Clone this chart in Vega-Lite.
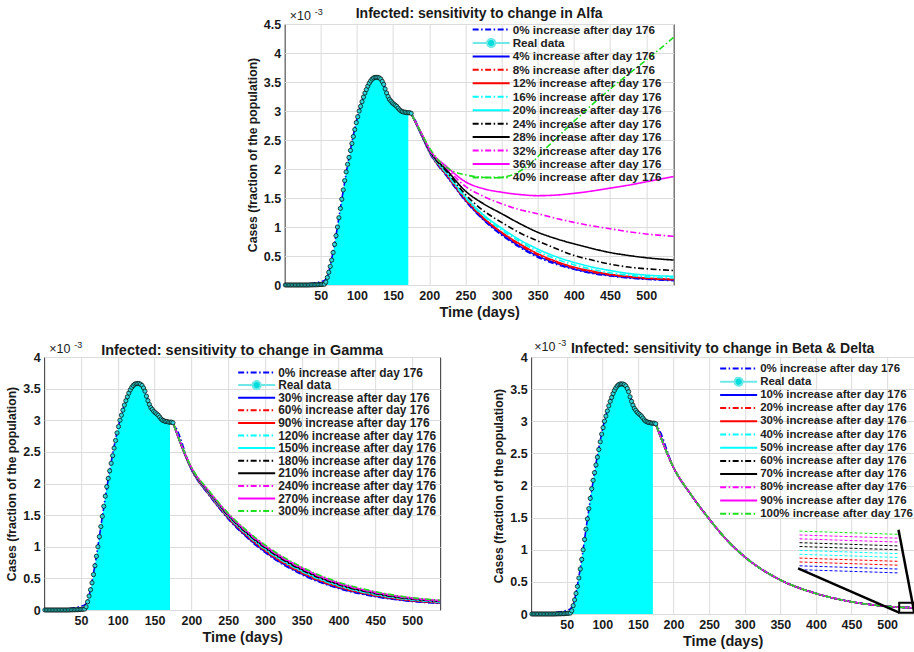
{
  "$schema": "https://vega.github.io/schema/vega-lite/v6.json",
  "padding": {"left": 5, "top": 6, "right": 1, "bottom": 0},
  "background": "white",
  "center": true,
  "spacing": 18,
  "resolve": {"scale": {"x": "independent", "y": "independent", "color": "independent", "strokeDash": "independent"}, "legend": {"color": "independent", "strokeDash": "independent"}},
  "vconcat": [
    {
      "width": 389, "height": 261,
      "title": {"text": "Infected: sensitivity to change in Alfa", "offset": -13},
      "encoding": {
        "x": {"field": "day", "type": "quantitative", "scale": {"domain": [0, 538], "nice": false, "zero": false}, "axis": {"values": [50,100,150,200,250,300,350,400,450,500], "title": "Time (days)"}},
        "y": {"field": "cases", "type": "quantitative", "scale": {"domain": [0, 4.5], "nice": false}, "axis": {"values": [0,0.5,1,1.5,2,2.5,3,3.5,4,4.5], "format": "~g", "title": "Cases (fraction of the population)"}}
      },
      "layer": [
        {"data": {"name": "real"}, "transform": [{"filter": "datum.day <= 171"}],
         "mark": {"type": "area", "color": "#00FFFF", "opacity": 1}},
        {"data": {"name": "alfa"}, "mark": {"type": "line", "strokeWidth": 1.6, "interpolate": "monotone"},
         "encoding": {
           "color": {"field": "series", "type": "nominal",
             "scale": {"domain": ["0%", "Real data", "4%", "8%", "12%", "16%", "20%", "24%", "28%", "32%", "36%", "40%"], "range": ["#0000FF", "#70E8E8", "#0000FF", "#FF0000", "#FF0000", "#00FFFF", "#00FFFF", "#000000", "#000000", "#FF00FF", "#FF00FF", "#1FE01F"]},
             "legend": {"title": null, "orient": "none", "legendX": 187, "legendY": 0, "rowPadding": 0.45, "labelFontSize": 11.7, "labelExpr": "datum.label == 'Real data' ? datum.label : datum.label + ' increase after day 176'",
               "encode": {"symbols": {"update": {"shape": {"signal": "datum.value == 'Real data' ? 'M-1,0H-0.22M0.22,0H1M0.22,0A0.22,0.22,0,1,1,-0.22,0A0.22,0.22,0,1,1,0.22,0' : 'stroke'"}, "fill": {"signal": "datum.value == 'Real data' ? '#00DDDD' : 'transparent'"}}}}}},
           "strokeDash": {"field": "series", "type": "nominal",
             "scale": {"domain": ["0%", "Real data", "4%", "8%", "12%", "16%", "20%", "24%", "28%", "32%", "36%", "40%"], "range": [[6,2.5,1.5,2.5],[1,0],[1,0],[6,2.5,1.5,2.5],[1,0],[6,2.5,1.5,2.5],[1,0],[6,2.5,1.5,2.5],[1,0],[6,2.5,1.5,2.5],[1,0],[6,2.5,1.5,2.5]]},
             "legend": {"title": null, "orient": "none", "legendX": 187, "legendY": 0, "rowPadding": 0.45, "labelFontSize": 11.7, "labelExpr": "datum.label == 'Real data' ? datum.label : datum.label + ' increase after day 176'",
               "encode": {"symbols": {"update": {"shape": {"signal": "datum.value == 'Real data' ? 'M-1,0H-0.22M0.22,0H1M0.22,0A0.22,0.22,0,1,1,-0.22,0A0.22,0.22,0,1,1,0.22,0' : 'stroke'"}, "fill": {"signal": "datum.value == 'Real data' ? '#00DDDD' : 'transparent'"}}}}}}}},
        {"data": {"name": "real"}, "mark": {"type": "point", "filled": true, "size": 18, "fill": "#33D6D6", "stroke": "#000000", "strokeWidth": 0.7, "opacity": 1}},
        {"data": {"values": [{"day": 0, "cases": 4.5}]}, "mark": {"type": "text", "text": "×10", "align": "left", "baseline": "alphabetic", "dx": 5, "dy": -4, "fontSize": 12.5, "color": "#222222"}},
        {"data": {"values": [{"day": 0, "cases": 4.5}]}, "mark": {"type": "text", "text": "-3", "align": "left", "baseline": "alphabetic", "dx": 30, "dy": -9, "fontSize": 9, "color": "#222222"}}
      ]
    },
    {
      "hconcat": [
        {
          "width": 396, "height": 253,
          "title": {"text": "Infected: sensitivity to change in Gamma", "offset": -17, "fontSize": 14.5},
          "encoding": {
            "x": {"field": "day", "type": "quantitative", "scale": {"domain": [0, 538], "nice": false, "zero": false}, "axis": {"values": [50,100,150,200,250,300,350,400,450,500], "title": "Time (days)"}},
            "y": {"field": "cases", "type": "quantitative", "scale": {"domain": [0, 4], "nice": false}, "axis": {"values": [0,0.5,1,1.5,2,2.5,3,3.5,4], "format": "~g", "title": "Cases (fraction of the population)"}}
          },
          "layer": [
            {"data": {"name": "real"}, "transform": [{"filter": "datum.day <= 171"}],
             "mark": {"type": "area", "color": "#00FFFF", "opacity": 1}},
            {"data": {"name": "gamma"}, "mark": {"type": "line", "strokeWidth": 1.6, "interpolate": "monotone"},
             "encoding": {
               "color": {"field": "series", "type": "nominal",
                 "scale": {"domain": ["0%", "Real data", "30%", "60%", "90%", "120%", "150%", "180%", "210%", "240%", "270%", "300%"], "range": ["#0000FF", "#70E8E8", "#0000FF", "#FF0000", "#FF0000", "#00FFFF", "#00FFFF", "#000000", "#000000", "#FF00FF", "#FF00FF", "#1FE01F"]},
                 "legend": {"title": null, "orient": "none", "legendX": 193, "legendY": 10, "rowPadding": -0.4, "labelFontSize": 11.9, "labelExpr": "datum.label == 'Real data' ? datum.label : datum.label + ' increase after day 176'",
                   "encode": {"symbols": {"update": {"shape": {"signal": "datum.value == 'Real data' ? 'M-1,0H-0.22M0.22,0H1M0.22,0A0.22,0.22,0,1,1,-0.22,0A0.22,0.22,0,1,1,0.22,0' : 'stroke'"}, "fill": {"signal": "datum.value == 'Real data' ? '#00DDDD' : 'transparent'"}}}}}},
               "strokeDash": {"field": "series", "type": "nominal",
                 "scale": {"domain": ["0%", "Real data", "30%", "60%", "90%", "120%", "150%", "180%", "210%", "240%", "270%", "300%"], "range": [[6,2.5,1.5,2.5],[1,0],[1,0],[6,2.5,1.5,2.5],[1,0],[6,2.5,1.5,2.5],[1,0],[6,2.5,1.5,2.5],[1,0],[6,2.5,1.5,2.5],[1,0],[6,2.5,1.5,2.5]]},
                 "legend": {"title": null, "orient": "none", "legendX": 193, "legendY": 10, "rowPadding": -0.4, "labelFontSize": 11.9, "labelExpr": "datum.label == 'Real data' ? datum.label : datum.label + ' increase after day 176'",
                   "encode": {"symbols": {"update": {"shape": {"signal": "datum.value == 'Real data' ? 'M-1,0H-0.22M0.22,0H1M0.22,0A0.22,0.22,0,1,1,-0.22,0A0.22,0.22,0,1,1,0.22,0' : 'stroke'"}, "fill": {"signal": "datum.value == 'Real data' ? '#00DDDD' : 'transparent'"}}}}}}}},
            {"data": {"name": "real"}, "mark": {"type": "point", "filled": true, "size": 18, "fill": "#33D6D6", "stroke": "#000000", "strokeWidth": 0.7, "opacity": 1}},
            {"data": {"values": [{"day": 0, "cases": 4}]}, "mark": {"type": "text", "text": "×10", "align": "left", "baseline": "alphabetic", "dx": 5, "dy": -4, "fontSize": 12.5, "color": "#222222"}},
            {"data": {"values": [{"day": 0, "cases": 4}]}, "mark": {"type": "text", "text": "-3", "align": "left", "baseline": "alphabetic", "dx": 30, "dy": -9, "fontSize": 9, "color": "#222222"}}
          ]
        },
        {
          "width": 383, "height": 257,
          "title": {"text": "Infected: sensitivity to change in Beta & Delta", "offset": -17},
          "encoding": {
            "x": {"field": "day", "type": "quantitative", "scale": {"domain": [0, 538], "nice": false, "zero": false}, "axis": {"values": [50,100,150,200,250,300,350,400,450,500], "title": "Time (days)"}},
            "y": {"field": "cases", "type": "quantitative", "scale": {"domain": [0, 4], "nice": false}, "axis": {"values": [0,0.5,1,1.5,2,2.5,3,3.5,4], "format": "~g", "title": "Cases (fraction of the population)"}}
          },
          "layer": [
            {"data": {"name": "real"}, "transform": [{"filter": "datum.day <= 171"}],
             "mark": {"type": "area", "color": "#00FFFF", "opacity": 1}},
            {"data": {"name": "bd"}, "mark": {"type": "line", "strokeWidth": 1.6, "interpolate": "monotone"},
             "encoding": {
               "color": {"field": "series", "type": "nominal",
                 "scale": {"domain": ["0%", "Real data", "10%", "20%", "30%", "40%", "50%", "60%", "70%", "80%", "90%", "100%"], "range": ["#0000FF", "#70E8E8", "#0000FF", "#FF0000", "#FF0000", "#00FFFF", "#00FFFF", "#000000", "#000000", "#FF00FF", "#FF00FF", "#1FE01F"]},
                 "legend": {"title": null, "orient": "none", "legendX": 188, "legendY": 6, "rowPadding": 1.2, "labelFontSize": 11.5, "labelExpr": "datum.label == 'Real data' ? datum.label : datum.label + ' increase after day 176'",
                   "encode": {"symbols": {"update": {"shape": {"signal": "datum.value == 'Real data' ? 'M-1,0H-0.22M0.22,0H1M0.22,0A0.22,0.22,0,1,1,-0.22,0A0.22,0.22,0,1,1,0.22,0' : 'stroke'"}, "fill": {"signal": "datum.value == 'Real data' ? '#00DDDD' : 'transparent'"}}}}}},
               "strokeDash": {"field": "series", "type": "nominal",
                 "scale": {"domain": ["0%", "Real data", "10%", "20%", "30%", "40%", "50%", "60%", "70%", "80%", "90%", "100%"], "range": [[6,2.5,1.5,2.5],[1,0],[1,0],[6,2.5,1.5,2.5],[1,0],[6,2.5,1.5,2.5],[1,0],[6,2.5,1.5,2.5],[1,0],[6,2.5,1.5,2.5],[1,0],[6,2.5,1.5,2.5]]},
                 "legend": {"title": null, "orient": "none", "legendX": 188, "legendY": 6, "rowPadding": 1.2, "labelFontSize": 11.5, "labelExpr": "datum.label == 'Real data' ? datum.label : datum.label + ' increase after day 176'",
                   "encode": {"symbols": {"update": {"shape": {"signal": "datum.value == 'Real data' ? 'M-1,0H-0.22M0.22,0H1M0.22,0A0.22,0.22,0,1,1,-0.22,0A0.22,0.22,0,1,1,0.22,0' : 'stroke'"}, "fill": {"signal": "datum.value == 'Real data' ? '#00DDDD' : 'transparent'"}}}}}}}},
            {"data": {"name": "inset"}, "mark": {"type": "line", "strokeWidth": 1, "strokeDash": [3, 2]},
             "encoding": {"color": {"field": "series", "type": "nominal"}, "detail": {"field": "series"}}},
            {"data": {"name": "connect"}, "mark": {"type": "rule", "color": "#000000", "strokeWidth": 2.5},
             "encoding": {"x2": {"field": "day2"}, "y2": {"field": "cases2"}}},
            {"data": {"name": "box"}, "mark": {"type": "rect", "fill": null, "fillOpacity": 0, "stroke": "#000000", "strokeWidth": 2},
             "encoding": {"x2": {"field": "day2"}, "y2": {"field": "cases2"}}},
            {"data": {"name": "real"}, "mark": {"type": "point", "filled": true, "size": 18, "fill": "#33D6D6", "stroke": "#000000", "strokeWidth": 0.7, "opacity": 1}},
            {"data": {"values": [{"day": 0, "cases": 4}]}, "mark": {"type": "text", "text": "×10", "align": "left", "baseline": "alphabetic", "dx": 3, "dy": -6, "fontSize": 12.5, "color": "#222222"}},
            {"data": {"values": [{"day": 0, "cases": 4}]}, "mark": {"type": "text", "text": "-3", "align": "left", "baseline": "alphabetic", "dx": 27, "dy": -11, "fontSize": 9, "color": "#222222"}}
          ]
        }
      ],
      "spacing": 48,
      "resolve": {"scale": {"x": "independent", "y": "independent", "color": "independent", "strokeDash": "independent"}, "legend": {"color": "independent", "strokeDash": "independent"}}
    }
  ],
  "datasets": {
    "real": [
      {"day":1,"cases":0},{"day":3,"cases":0},{"day":5,"cases":0},{"day":7,"cases":0},{"day":9,"cases":0},{"day":11,"cases":0},{"day":13,"cases":0},{"day":15,"cases":0},{"day":17,"cases":0},{"day":19,"cases":0},{"day":21,"cases":0},{"day":23,"cases":0},{"day":25,"cases":0},{"day":27,"cases":0},{"day":29,"cases":0},{"day":31,"cases":0},{"day":33,"cases":0},{"day":35,"cases":0.002},{"day":37,"cases":0.002},{"day":39,"cases":0.003},{"day":41,"cases":0.003},{"day":43,"cases":0.004},{"day":45,"cases":0.005},{"day":47,"cases":0.006},{"day":49,"cases":0.008},{"day":51,"cases":0.01},{"day":53,"cases":0.012},{"day":55,"cases":0.015},{"day":57,"cases":0.05},{"day":59,"cases":0.13},{"day":61,"cases":0.22},{"day":63,"cases":0.32},{"day":65,"cases":0.43},{"day":67,"cases":0.56},{"day":69,"cases":0.7},{"day":71,"cases":0.85},{"day":73,"cases":1.0},{"day":75,"cases":1.16},{"day":77,"cases":1.32},{"day":79,"cases":1.48},{"day":81,"cases":1.64},{"day":83,"cases":1.8},{"day":85,"cases":1.95},{"day":87,"cases":2.08},{"day":89,"cases":2.2},{"day":91,"cases":2.32},{"day":93,"cases":2.44},{"day":95,"cases":2.56},{"day":97,"cases":2.68},{"day":99,"cases":2.8},{"day":101,"cases":2.9},{"day":103,"cases":3.0},{"day":105,"cases":3.08},{"day":107,"cases":3.16},{"day":109,"cases":3.24},{"day":111,"cases":3.31},{"day":113,"cases":3.37},{"day":115,"cases":3.43},{"day":117,"cases":3.48},{"day":119,"cases":3.52},{"day":121,"cases":3.55},{"day":123,"cases":3.57},{"day":125,"cases":3.58},{"day":127,"cases":3.58},{"day":129,"cases":3.58},{"day":131,"cases":3.57},{"day":133,"cases":3.55},{"day":135,"cases":3.51},{"day":137,"cases":3.46},{"day":139,"cases":3.38},{"day":141,"cases":3.31},{"day":143,"cases":3.25},{"day":145,"cases":3.2},{"day":147,"cases":3.17},{"day":149,"cases":3.14},{"day":151,"cases":3.12},{"day":153,"cases":3.1},{"day":155,"cases":3.08},{"day":157,"cases":3.05},{"day":159,"cases":3.02},{"day":161,"cases":3.0},{"day":163,"cases":2.99},{"day":165,"cases":2.98},{"day":167,"cases":2.98},{"day":169,"cases":2.97},{"day":171,"cases":2.97},{"day":173,"cases":2.97},{"day":175,"cases":2.96}
    ],
    "alfa": [
      {"series":"0%","day":0,"cases":0},{"series":"0%","day":20,"cases":0.01},{"series":"0%","day":40,"cases":0.03},{"series":"0%","day":50,"cases":0.06},{"series":"0%","day":55,"cases":0.08},{"series":"0%","day":60,"cases":0.18},{"series":"0%","day":65,"cases":0.45},{"series":"0%","day":70,"cases":0.78},{"series":"0%","day":80,"cases":1.55},{"series":"0%","day":90,"cases":2.27},{"series":"0%","day":100,"cases":2.86},{"series":"0%","day":110,"cases":3.28},{"series":"0%","day":120,"cases":3.53},{"series":"0%","day":128,"cases":3.58},{"series":"0%","day":136,"cases":3.48},{"series":"0%","day":144,"cases":3.24},{"series":"0%","day":152,"cases":3.1},{"series":"0%","day":160,"cases":3.01},{"series":"0%","day":168,"cases":2.97},
      {"series":"0%","day":176,"cases":2.93},{"series":"0%","day":190,"cases":2.56},{"series":"0%","day":200,"cases":2.29},{"series":"0%","day":225,"cases":1.86},{"series":"0%","day":250,"cases":1.45},{"series":"0%","day":275,"cases":1.12},{"series":"0%","day":300,"cases":0.86},{"series":"0%","day":325,"cases":0.65},{"series":"0%","day":350,"cases":0.48},{"series":"0%","day":375,"cases":0.36},{"series":"0%","day":400,"cases":0.27},{"series":"0%","day":425,"cases":0.2},{"series":"0%","day":450,"cases":0.155},{"series":"0%","day":475,"cases":0.12},{"series":"0%","day":500,"cases":0.098},{"series":"0%","day":538,"cases":0.076},
      {"series":"4%","day":176,"cases":2.93},{"series":"4%","day":190,"cases":2.56},{"series":"4%","day":200,"cases":2.3},{"series":"4%","day":225,"cases":1.87},{"series":"4%","day":250,"cases":1.46},{"series":"4%","day":275,"cases":1.13},{"series":"4%","day":300,"cases":0.88},{"series":"4%","day":325,"cases":0.67},{"series":"4%","day":350,"cases":0.5},{"series":"4%","day":375,"cases":0.38},{"series":"4%","day":400,"cases":0.28},{"series":"4%","day":425,"cases":0.21},{"series":"4%","day":450,"cases":0.165},{"series":"4%","day":475,"cases":0.13},{"series":"4%","day":500,"cases":0.105},{"series":"4%","day":538,"cases":0.084},
      {"series":"8%","day":176,"cases":2.93},{"series":"8%","day":190,"cases":2.57},{"series":"8%","day":200,"cases":2.3},{"series":"8%","day":225,"cases":1.88},{"series":"8%","day":250,"cases":1.47},{"series":"8%","day":275,"cases":1.15},{"series":"8%","day":300,"cases":0.9},{"series":"8%","day":325,"cases":0.69},{"series":"8%","day":350,"cases":0.52},{"series":"8%","day":375,"cases":0.39},{"series":"8%","day":400,"cases":0.295},{"series":"8%","day":425,"cases":0.225},{"series":"8%","day":450,"cases":0.175},{"series":"8%","day":475,"cases":0.14},{"series":"8%","day":500,"cases":0.112},{"series":"8%","day":538,"cases":0.09},
      {"series":"12%","day":176,"cases":2.93},{"series":"12%","day":190,"cases":2.57},{"series":"12%","day":200,"cases":2.31},{"series":"12%","day":225,"cases":1.89},{"series":"12%","day":250,"cases":1.49},{"series":"12%","day":275,"cases":1.16},{"series":"12%","day":300,"cases":0.91},{"series":"12%","day":325,"cases":0.71},{"series":"12%","day":350,"cases":0.54},{"series":"12%","day":375,"cases":0.41},{"series":"12%","day":400,"cases":0.31},{"series":"12%","day":425,"cases":0.24},{"series":"12%","day":450,"cases":0.185},{"series":"12%","day":475,"cases":0.148},{"series":"12%","day":500,"cases":0.12},{"series":"12%","day":538,"cases":0.1},
      {"series":"16%","day":176,"cases":2.93},{"series":"16%","day":190,"cases":2.57},{"series":"16%","day":200,"cases":2.31},{"series":"16%","day":225,"cases":1.9},{"series":"16%","day":250,"cases":1.5},{"series":"16%","day":275,"cases":1.19},{"series":"16%","day":300,"cases":0.95},{"series":"16%","day":325,"cases":0.75},{"series":"16%","day":350,"cases":0.58},{"series":"16%","day":375,"cases":0.45},{"series":"16%","day":400,"cases":0.35},{"series":"16%","day":425,"cases":0.27},{"series":"16%","day":450,"cases":0.21},{"series":"16%","day":475,"cases":0.17},{"series":"16%","day":500,"cases":0.14},{"series":"16%","day":538,"cases":0.12},
      {"series":"20%","day":176,"cases":2.93},{"series":"20%","day":190,"cases":2.58},{"series":"20%","day":200,"cases":2.32},{"series":"20%","day":225,"cases":1.92},{"series":"20%","day":250,"cases":1.52},{"series":"20%","day":275,"cases":1.21},{"series":"20%","day":300,"cases":0.98},{"series":"20%","day":325,"cases":0.78},{"series":"20%","day":350,"cases":0.62},{"series":"20%","day":375,"cases":0.49},{"series":"20%","day":400,"cases":0.39},{"series":"20%","day":425,"cases":0.31},{"series":"20%","day":450,"cases":0.25},{"series":"20%","day":475,"cases":0.2},{"series":"20%","day":500,"cases":0.17},{"series":"20%","day":538,"cases":0.15},
      {"series":"24%","day":176,"cases":2.93},{"series":"24%","day":190,"cases":2.58},{"series":"24%","day":200,"cases":2.32},{"series":"24%","day":225,"cases":1.94},{"series":"24%","day":250,"cases":1.56},{"series":"24%","day":275,"cases":1.28},{"series":"24%","day":300,"cases":1.08},{"series":"24%","day":325,"cases":0.9},{"series":"24%","day":350,"cases":0.76},{"series":"24%","day":375,"cases":0.63},{"series":"24%","day":400,"cases":0.51},{"series":"24%","day":425,"cases":0.43},{"series":"24%","day":450,"cases":0.36},{"series":"24%","day":475,"cases":0.31},{"series":"24%","day":500,"cases":0.28},{"series":"24%","day":538,"cases":0.25},
      {"series":"28%","day":176,"cases":2.93},{"series":"28%","day":190,"cases":2.59},{"series":"28%","day":200,"cases":2.33},{"series":"28%","day":225,"cases":1.97},{"series":"28%","day":250,"cases":1.62},{"series":"28%","day":275,"cases":1.4},{"series":"28%","day":300,"cases":1.23},{"series":"28%","day":325,"cases":1.06},{"series":"28%","day":350,"cases":0.91},{"series":"28%","day":375,"cases":0.8},{"series":"28%","day":400,"cases":0.71},{"series":"28%","day":425,"cases":0.63},{"series":"28%","day":450,"cases":0.56},{"series":"28%","day":475,"cases":0.51},{"series":"28%","day":500,"cases":0.47},{"series":"28%","day":538,"cases":0.43},
      {"series":"32%","day":176,"cases":2.93},{"series":"32%","day":190,"cases":2.59},{"series":"32%","day":200,"cases":2.34},{"series":"32%","day":225,"cases":2.0},{"series":"32%","day":250,"cases":1.7},{"series":"32%","day":275,"cases":1.53},{"series":"32%","day":300,"cases":1.4},{"series":"32%","day":325,"cases":1.3},{"series":"32%","day":350,"cases":1.23},{"series":"32%","day":375,"cases":1.15},{"series":"32%","day":400,"cases":1.08},{"series":"32%","day":425,"cases":1.02},{"series":"32%","day":450,"cases":0.97},{"series":"32%","day":475,"cases":0.92},{"series":"32%","day":500,"cases":0.88},{"series":"32%","day":538,"cases":0.84},
      {"series":"36%","day":176,"cases":2.93},{"series":"36%","day":190,"cases":2.6},{"series":"36%","day":200,"cases":2.35},{"series":"36%","day":225,"cases":2.03},{"series":"36%","day":250,"cases":1.78},{"series":"36%","day":275,"cases":1.66},{"series":"36%","day":300,"cases":1.6},{"series":"36%","day":325,"cases":1.56},{"series":"36%","day":350,"cases":1.54},{"series":"36%","day":375,"cases":1.55},{"series":"36%","day":400,"cases":1.58},{"series":"36%","day":425,"cases":1.62},{"series":"36%","day":450,"cases":1.67},{"series":"36%","day":475,"cases":1.72},{"series":"36%","day":500,"cases":1.78},{"series":"36%","day":538,"cases":1.87},
      {"series":"40%","day":176,"cases":2.93},{"series":"40%","day":190,"cases":2.6},{"series":"40%","day":200,"cases":2.37},{"series":"40%","day":215,"cases":2.12},{"series":"40%","day":230,"cases":1.98},{"series":"40%","day":250,"cases":1.9},{"series":"40%","day":270,"cases":1.86},{"series":"40%","day":290,"cases":1.85},{"series":"40%","day":310,"cases":1.88},{"series":"40%","day":325,"cases":1.96},{"series":"40%","day":340,"cases":2.09},{"series":"40%","day":360,"cases":2.34},{"series":"40%","day":380,"cases":2.58},{"series":"40%","day":400,"cases":2.82},{"series":"40%","day":420,"cases":3.05},{"series":"40%","day":440,"cases":3.27},{"series":"40%","day":460,"cases":3.48},{"series":"40%","day":480,"cases":3.68},{"series":"40%","day":500,"cases":3.88},{"series":"40%","day":520,"cases":4.08},{"series":"40%","day":538,"cases":4.27}
    ],
    "gamma": [
      {"series":"0%","day":0,"cases":0},{"series":"0%","day":20,"cases":0.01},{"series":"0%","day":40,"cases":0.03},{"series":"0%","day":50,"cases":0.06},{"series":"0%","day":55,"cases":0.08},{"series":"0%","day":60,"cases":0.18},{"series":"0%","day":65,"cases":0.45},{"series":"0%","day":70,"cases":0.78},{"series":"0%","day":80,"cases":1.55},{"series":"0%","day":90,"cases":2.27},{"series":"0%","day":100,"cases":2.86},{"series":"0%","day":110,"cases":3.28},{"series":"0%","day":120,"cases":3.53},{"series":"0%","day":128,"cases":3.58},{"series":"0%","day":136,"cases":3.48},{"series":"0%","day":144,"cases":3.24},{"series":"0%","day":152,"cases":3.1},{"series":"0%","day":160,"cases":3.01},{"series":"0%","day":168,"cases":2.97},
      {"series":"0%","day":176,"cases":2.93},{"series":"0%","day":200,"cases":2.22},{"series":"0%","day":225,"cases":1.8},{"series":"0%","day":250,"cases":1.44},{"series":"0%","day":275,"cases":1.15},{"series":"0%","day":300,"cases":0.91},{"series":"0%","day":350,"cases":0.56},{"series":"0%","day":400,"cases":0.34},{"series":"0%","day":450,"cases":0.21},{"series":"0%","day":500,"cases":0.135},{"series":"0%","day":538,"cases":0.105},
      {"series":"30%","day":176,"cases":2.93},{"series":"30%","day":200,"cases":2.224},{"series":"30%","day":225,"cases":1.807},{"series":"30%","day":250,"cases":1.449},{"series":"30%","day":275,"cases":1.161},{"series":"30%","day":300,"cases":0.922},{"series":"30%","day":350,"cases":0.572},{"series":"30%","day":400,"cases":0.35},{"series":"30%","day":450,"cases":0.218},{"series":"30%","day":500,"cases":0.141},{"series":"30%","day":538,"cases":0.11},
      {"series":"60%","day":176,"cases":2.93},{"series":"60%","day":200,"cases":2.228},{"series":"60%","day":225,"cases":1.814},{"series":"60%","day":250,"cases":1.458},{"series":"60%","day":275,"cases":1.172},{"series":"60%","day":300,"cases":0.934},{"series":"60%","day":350,"cases":0.584},{"series":"60%","day":400,"cases":0.36},{"series":"60%","day":450,"cases":0.226},{"series":"60%","day":500,"cases":0.147},{"series":"60%","day":538,"cases":0.115},
      {"series":"90%","day":176,"cases":2.93},{"series":"90%","day":200,"cases":2.232},{"series":"90%","day":225,"cases":1.821},{"series":"90%","day":250,"cases":1.467},{"series":"90%","day":275,"cases":1.183},{"series":"90%","day":300,"cases":0.946},{"series":"90%","day":350,"cases":0.596},{"series":"90%","day":400,"cases":0.37},{"series":"90%","day":450,"cases":0.234},{"series":"90%","day":500,"cases":0.153},{"series":"90%","day":538,"cases":0.12},
      {"series":"120%","day":176,"cases":2.93},{"series":"120%","day":200,"cases":2.236},{"series":"120%","day":225,"cases":1.828},{"series":"120%","day":250,"cases":1.476},{"series":"120%","day":275,"cases":1.194},{"series":"120%","day":300,"cases":0.958},{"series":"120%","day":350,"cases":0.608},{"series":"120%","day":400,"cases":0.38},{"series":"120%","day":450,"cases":0.242},{"series":"120%","day":500,"cases":0.159},{"series":"120%","day":538,"cases":0.125},
      {"series":"150%","day":176,"cases":2.93},{"series":"150%","day":200,"cases":2.24},{"series":"150%","day":225,"cases":1.835},{"series":"150%","day":250,"cases":1.485},{"series":"150%","day":275,"cases":1.205},{"series":"150%","day":300,"cases":0.97},{"series":"150%","day":350,"cases":0.62},{"series":"150%","day":400,"cases":0.39},{"series":"150%","day":450,"cases":0.25},{"series":"150%","day":500,"cases":0.165},{"series":"150%","day":538,"cases":0.13},
      {"series":"180%","day":176,"cases":2.93},{"series":"180%","day":200,"cases":2.244},{"series":"180%","day":225,"cases":1.842},{"series":"180%","day":250,"cases":1.494},{"series":"180%","day":275,"cases":1.216},{"series":"180%","day":300,"cases":0.982},{"series":"180%","day":350,"cases":0.632},{"series":"180%","day":400,"cases":0.4},{"series":"180%","day":450,"cases":0.258},{"series":"180%","day":500,"cases":0.171},{"series":"180%","day":538,"cases":0.135},
      {"series":"210%","day":176,"cases":2.93},{"series":"210%","day":200,"cases":2.248},{"series":"210%","day":225,"cases":1.849},{"series":"210%","day":250,"cases":1.503},{"series":"210%","day":275,"cases":1.227},{"series":"210%","day":300,"cases":0.994},{"series":"210%","day":350,"cases":0.644},{"series":"210%","day":400,"cases":0.41},{"series":"210%","day":450,"cases":0.266},{"series":"210%","day":500,"cases":0.177},{"series":"210%","day":538,"cases":0.14},
      {"series":"240%","day":176,"cases":2.93},{"series":"240%","day":200,"cases":2.252},{"series":"240%","day":225,"cases":1.856},{"series":"240%","day":250,"cases":1.512},{"series":"240%","day":275,"cases":1.238},{"series":"240%","day":300,"cases":1.006},{"series":"240%","day":350,"cases":0.656},{"series":"240%","day":400,"cases":0.42},{"series":"240%","day":450,"cases":0.274},{"series":"240%","day":500,"cases":0.183},{"series":"240%","day":538,"cases":0.145},
      {"series":"270%","day":176,"cases":2.93},{"series":"270%","day":200,"cases":2.256},{"series":"270%","day":225,"cases":1.863},{"series":"270%","day":250,"cases":1.521},{"series":"270%","day":275,"cases":1.249},{"series":"270%","day":300,"cases":1.018},{"series":"270%","day":350,"cases":0.668},{"series":"270%","day":400,"cases":0.43},{"series":"270%","day":450,"cases":0.282},{"series":"270%","day":500,"cases":0.189},{"series":"270%","day":538,"cases":0.15},
      {"series":"300%","day":176,"cases":2.93},{"series":"300%","day":200,"cases":2.26},{"series":"300%","day":225,"cases":1.87},{"series":"300%","day":250,"cases":1.53},{"series":"300%","day":275,"cases":1.26},{"series":"300%","day":300,"cases":1.03},{"series":"300%","day":350,"cases":0.68},{"series":"300%","day":400,"cases":0.44},{"series":"300%","day":450,"cases":0.29},{"series":"300%","day":500,"cases":0.195},{"series":"300%","day":538,"cases":0.155}
    ],
    "bd": [
      {"series":"0%","day":0,"cases":0},{"series":"0%","day":20,"cases":0.01},{"series":"0%","day":40,"cases":0.03},{"series":"0%","day":50,"cases":0.06},{"series":"0%","day":55,"cases":0.08},{"series":"0%","day":60,"cases":0.18},{"series":"0%","day":65,"cases":0.45},{"series":"0%","day":70,"cases":0.78},{"series":"0%","day":80,"cases":1.55},{"series":"0%","day":90,"cases":2.27},{"series":"0%","day":100,"cases":2.86},{"series":"0%","day":110,"cases":3.28},{"series":"0%","day":120,"cases":3.53},{"series":"0%","day":128,"cases":3.58},{"series":"0%","day":136,"cases":3.48},{"series":"0%","day":144,"cases":3.24},{"series":"0%","day":152,"cases":3.1},{"series":"0%","day":160,"cases":3.01},{"series":"0%","day":168,"cases":2.97},
      {"series":"0%","day":176,"cases":2.93},{"series":"0%","day":200,"cases":2.28},{"series":"0%","day":225,"cases":1.85},{"series":"0%","day":250,"cases":1.48},{"series":"0%","day":275,"cases":1.15},{"series":"0%","day":300,"cases":0.89},{"series":"0%","day":350,"cases":0.53},{"series":"0%","day":400,"cases":0.32},{"series":"0%","day":450,"cases":0.19},{"series":"0%","day":500,"cases":0.12},{"series":"0%","day":538,"cases":0.095},
      {"series":"10%","day":176,"cases":2.93},{"series":"10%","day":200,"cases":2.28},{"series":"10%","day":225,"cases":1.85},{"series":"10%","day":250,"cases":1.48},{"series":"10%","day":275,"cases":1.15},{"series":"10%","day":300,"cases":0.89},{"series":"10%","day":350,"cases":0.53},{"series":"10%","day":400,"cases":0.32},{"series":"10%","day":450,"cases":0.19},{"series":"10%","day":500,"cases":0.12},{"series":"10%","day":538,"cases":0.095},
      {"series":"20%","day":176,"cases":2.93},{"series":"20%","day":200,"cases":2.28},{"series":"20%","day":225,"cases":1.85},{"series":"20%","day":250,"cases":1.48},{"series":"20%","day":275,"cases":1.15},{"series":"20%","day":300,"cases":0.89},{"series":"20%","day":350,"cases":0.53},{"series":"20%","day":400,"cases":0.32},{"series":"20%","day":450,"cases":0.19},{"series":"20%","day":500,"cases":0.12},{"series":"20%","day":538,"cases":0.095},
      {"series":"30%","day":176,"cases":2.93},{"series":"30%","day":200,"cases":2.28},{"series":"30%","day":225,"cases":1.85},{"series":"30%","day":250,"cases":1.48},{"series":"30%","day":275,"cases":1.15},{"series":"30%","day":300,"cases":0.89},{"series":"30%","day":350,"cases":0.53},{"series":"30%","day":400,"cases":0.32},{"series":"30%","day":450,"cases":0.19},{"series":"30%","day":500,"cases":0.12},{"series":"30%","day":538,"cases":0.095},
      {"series":"40%","day":176,"cases":2.93},{"series":"40%","day":200,"cases":2.28},{"series":"40%","day":225,"cases":1.85},{"series":"40%","day":250,"cases":1.48},{"series":"40%","day":275,"cases":1.15},{"series":"40%","day":300,"cases":0.89},{"series":"40%","day":350,"cases":0.53},{"series":"40%","day":400,"cases":0.32},{"series":"40%","day":450,"cases":0.19},{"series":"40%","day":500,"cases":0.12},{"series":"40%","day":538,"cases":0.095},
      {"series":"50%","day":176,"cases":2.93},{"series":"50%","day":200,"cases":2.28},{"series":"50%","day":225,"cases":1.85},{"series":"50%","day":250,"cases":1.48},{"series":"50%","day":275,"cases":1.15},{"series":"50%","day":300,"cases":0.89},{"series":"50%","day":350,"cases":0.53},{"series":"50%","day":400,"cases":0.32},{"series":"50%","day":450,"cases":0.19},{"series":"50%","day":500,"cases":0.12},{"series":"50%","day":538,"cases":0.095},
      {"series":"60%","day":176,"cases":2.93},{"series":"60%","day":200,"cases":2.28},{"series":"60%","day":225,"cases":1.85},{"series":"60%","day":250,"cases":1.48},{"series":"60%","day":275,"cases":1.15},{"series":"60%","day":300,"cases":0.89},{"series":"60%","day":350,"cases":0.53},{"series":"60%","day":400,"cases":0.32},{"series":"60%","day":450,"cases":0.19},{"series":"60%","day":500,"cases":0.12},{"series":"60%","day":538,"cases":0.095},
      {"series":"70%","day":176,"cases":2.93},{"series":"70%","day":200,"cases":2.28},{"series":"70%","day":225,"cases":1.85},{"series":"70%","day":250,"cases":1.48},{"series":"70%","day":275,"cases":1.15},{"series":"70%","day":300,"cases":0.89},{"series":"70%","day":350,"cases":0.53},{"series":"70%","day":400,"cases":0.32},{"series":"70%","day":450,"cases":0.19},{"series":"70%","day":500,"cases":0.12},{"series":"70%","day":538,"cases":0.095},
      {"series":"80%","day":176,"cases":2.93},{"series":"80%","day":200,"cases":2.28},{"series":"80%","day":225,"cases":1.85},{"series":"80%","day":250,"cases":1.48},{"series":"80%","day":275,"cases":1.15},{"series":"80%","day":300,"cases":0.89},{"series":"80%","day":350,"cases":0.53},{"series":"80%","day":400,"cases":0.32},{"series":"80%","day":450,"cases":0.19},{"series":"80%","day":500,"cases":0.12},{"series":"80%","day":538,"cases":0.095},
      {"series":"90%","day":176,"cases":2.93},{"series":"90%","day":200,"cases":2.28},{"series":"90%","day":225,"cases":1.85},{"series":"90%","day":250,"cases":1.48},{"series":"90%","day":275,"cases":1.15},{"series":"90%","day":300,"cases":0.89},{"series":"90%","day":350,"cases":0.53},{"series":"90%","day":400,"cases":0.32},{"series":"90%","day":450,"cases":0.19},{"series":"90%","day":500,"cases":0.12},{"series":"90%","day":538,"cases":0.095},
      {"series":"100%","day":176,"cases":2.93},{"series":"100%","day":200,"cases":2.28},{"series":"100%","day":225,"cases":1.85},{"series":"100%","day":250,"cases":1.48},{"series":"100%","day":275,"cases":1.15},{"series":"100%","day":300,"cases":0.89},{"series":"100%","day":350,"cases":0.53},{"series":"100%","day":400,"cases":0.32},{"series":"100%","day":450,"cases":0.19},{"series":"100%","day":500,"cases":0.12},{"series":"100%","day":538,"cases":0.095}
    ],
    "inset": [
      {"series":"0%","day":377,"cases":0.69},{"series":"0%","day":515,"cases":0.64},
      {"series":"10%","day":377,"cases":0.75},{"series":"10%","day":515,"cases":0.7},
      {"series":"20%","day":377,"cases":0.81},{"series":"20%","day":515,"cases":0.76},
      {"series":"30%","day":377,"cases":0.87},{"series":"30%","day":515,"cases":0.82},
      {"series":"40%","day":377,"cases":0.93},{"series":"40%","day":515,"cases":0.88},
      {"series":"50%","day":377,"cases":0.99},{"series":"50%","day":515,"cases":0.94},
      {"series":"60%","day":377,"cases":1.05},{"series":"60%","day":515,"cases":1.0},
      {"series":"70%","day":377,"cases":1.11},{"series":"70%","day":515,"cases":1.06},
      {"series":"80%","day":377,"cases":1.17},{"series":"80%","day":515,"cases":1.12},
      {"series":"90%","day":377,"cases":1.23},{"series":"90%","day":515,"cases":1.18},
      {"series":"100%","day":377,"cases":1.29},{"series":"100%","day":515,"cases":1.24}
    ],
    "connect": [
      {"day":375,"cases":0.71,"day2":517,"cases2":0.02},
      {"day":516,"cases":1.31,"day2":538,"cases2":0.035}
    ],
    "box": [
      {"day":517,"cases":0.02,"day2":537.5,"cases2":0.175}
    ]
  },
  "config": {
    "font": "Liberation Sans",
    "view": {"stroke": "#333333", "strokeWidth": 1},
    "axis": {"labelFontWeight": "bold", "labelFontSize": 12.5, "labelColor": "#1a1a1a", "titleFontWeight": "bold", "titleColor": "#1a1a1a", "gridColor": "#dcdcdc", "domain": false, "ticks": false, "labelPadding": 4, "titlePadding": 4, "labelFlush": false, "labelOverlap": false},
    "axisX": {"titleFontSize": 14.5},
    "axisY": {"titleFontSize": 12.2},
    "title": {"fontSize": 14, "fontWeight": "bold", "color": "#1a1a1a", "frame": "group"},
    "legend": {"symbolType": "stroke", "symbolSize": 1369, "symbolStrokeWidth": 2, "clipHeight": 11, "labelFontWeight": "bold", "labelColor": "#222222", "labelOffset": 2, "labelLimit": 400, "padding": 0}
  }
}
